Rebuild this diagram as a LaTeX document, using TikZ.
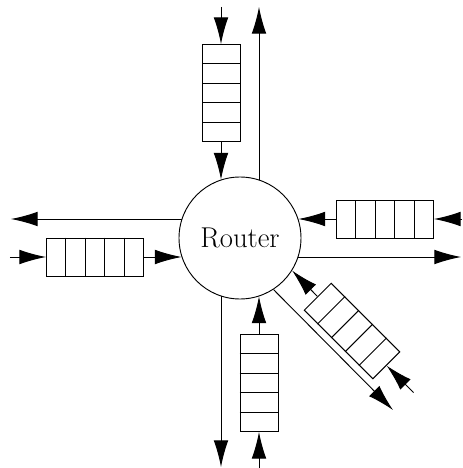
\documentclass[tikz,border=0pt]{standalone}
\usepackage{tikz}
\usetikzlibrary{arrows.meta,calc}

\tikzset{
  flow/.style={-{Latex[length=20pt,width=11pt]}, line width=0.7pt},
  buffer/.style={draw, rectangle, line width=0.7pt, inner sep=0pt,
    minimum width=72.75pt, minimum height=28.5pt},
  cell/.style={line width=0.7pt},
  hub/.style={draw, circle, line width=0.7pt, minimum size=91.5pt, inner sep=0pt,
    font=\fontsize{21.5}{25}\selectfont}
}

\begin{document}
\begin{tikzpicture}[x=0.75pt,y=0.75pt]
\useasboundingbox (-240,-230) rectangle (222,238);

%Shape: Circle
\node [hub] (router) at (0,0) {Router};

%Queues, long side pointing away from the router
\node [buffer, rotate=90] (qN) at (-19,145) {};
\node [buffer, rotate=0] (qE) at (145,19) {};
\node [buffer, rotate=180] (qW) at (-145,-19) {};
\node [buffer, rotate=270] (qS) at (19,-145) {};
\node [buffer, rotate=-45] (qSE) at (112,-93) {};

%Cells of the queues
\foreach \q in {qN,qE,qW,qS,qSE}
  \foreach \k in {0.2,0.4,0.6,0.8}
    \draw [cell] ($(\q.south west)!\k!(\q.south east)$) -- ($(\q.north west)!\k!(\q.north east)$);

%Free line ends
\coordinate (inN) at (-19,231);
\coordinate (outN) at (19,231);
\coordinate (inE) at (222,19);
\coordinate (outE) at (221,-19);
\coordinate (inW) at (-230,-19);
\coordinate (outW) at (-229,19);
\coordinate (inS) at (19,-230);
\coordinate (outS) at (-19,-229);
\coordinate (inSE) at (173.5,-154.5);
\coordinate (outSE) at (153,-172);

%Incoming lines
\draw [flow] (inN) -- (qN.east);
\draw [flow] (qN.west) -- (qN.west |- router.108.1);
\draw [flow] (inE) -- (qE.east);
\draw [flow] (qE.west) -- (qE.west -| router.18.1);
\draw [flow] (inW) -- (qW.east);
\draw [flow] (qW.west) -- (qW.west -| router.198.1);
\draw [flow] (inS) -- (qS.east);
\draw [flow] (qS.west) -- (qS.west |- router.288.1);
\draw [flow] (inSE) -- (qSE.east);
\draw [flow] (qSE.west) -- (router.-32.3);

%Outgoing lines
\draw [flow] (outN |- router.71.9) -- (outN);
\draw [flow] (outE -| router.-18.1) -- (outE);
\draw [flow] (outW -| router.161.9) -- (outW);
\draw [flow] (outS |- router.251.9) -- (outS);
\draw [flow] (router.-57.7) -- (outSE);

\end{tikzpicture}
\end{document}
